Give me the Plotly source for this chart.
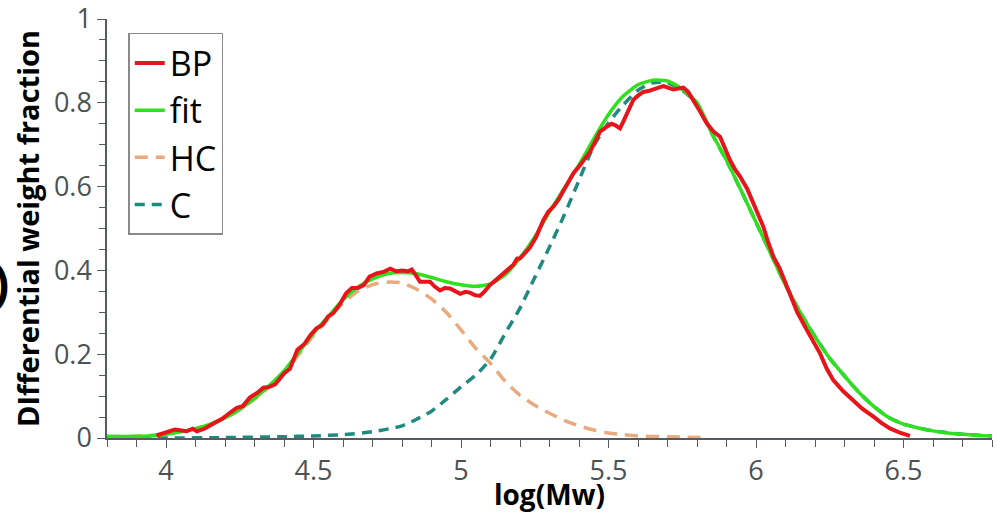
import plotly.graph_objects as go

# measured distribution (BP)
bp_x = [3.968, 3.99, 4.01, 4.03, 4.05, 4.07, 4.09, 4.105, 4.13, 4.16, 4.19, 4.22, 4.24, 4.26, 4.285,
        4.31, 4.33, 4.35, 4.37, 4.40, 4.42, 4.445, 4.47, 4.49, 4.51, 4.53, 4.55, 4.567, 4.59, 4.61,
        4.63, 4.65, 4.67, 4.69, 4.714, 4.74, 4.76, 4.78, 4.80, 4.82, 4.833, 4.85, 4.861, 4.895, 4.91,
        4.929, 4.945, 4.963, 4.98, 4.997, 5.015, 5.03, 5.047, 5.064, 5.08, 5.098, 5.115, 5.132, 5.155,
        5.177, 5.19, 5.20, 5.215, 5.234, 5.255, 5.279, 5.296, 5.313, 5.33, 5.347, 5.365, 5.381, 5.40,
        5.415, 5.437, 5.455, 5.471, 5.494, 5.51, 5.522, 5.539, 5.55, 5.562, 5.584, 5.60, 5.618, 5.635,
        5.652, 5.67, 5.686, 5.70, 5.72, 5.737, 5.754, 5.77, 5.787, 5.81, 5.833, 5.855, 5.878, 5.895,
        5.912, 5.93, 5.946, 5.97, 5.991, 6.01, 6.025, 6.04, 6.059, 6.08, 6.10, 6.115, 6.14, 6.172,
        6.195, 6.217, 6.24, 6.262, 6.295, 6.33, 6.36, 6.398, 6.425, 6.454, 6.49, 6.522]
bp_y = [0.006, 0.010, 0.016, 0.020, 0.017, 0.016, 0.022, 0.016, 0.022, 0.034, 0.046, 0.062, 0.072, 0.076, 0.097,
        0.108, 0.120, 0.122, 0.128, 0.154, 0.165, 0.210, 0.225, 0.246, 0.262, 0.270, 0.290, 0.298, 0.320, 0.345,
        0.358, 0.358, 0.365, 0.385, 0.393, 0.397, 0.404, 0.398, 0.400, 0.398, 0.402, 0.385, 0.373, 0.373, 0.362,
        0.352, 0.358, 0.357, 0.350, 0.344, 0.349, 0.347, 0.341, 0.339, 0.350, 0.365, 0.375, 0.385, 0.400,
        0.413, 0.428, 0.429, 0.440, 0.455, 0.480, 0.520, 0.540, 0.552, 0.568, 0.588, 0.612, 0.632, 0.648,
        0.663, 0.683, 0.708, 0.731, 0.743, 0.750, 0.747, 0.739, 0.755, 0.775, 0.807, 0.817, 0.826, 0.828,
        0.831, 0.836, 0.840, 0.836, 0.832, 0.834, 0.836, 0.826, 0.807, 0.780, 0.751, 0.732, 0.719, 0.690,
        0.663, 0.640, 0.624, 0.595, 0.560, 0.530, 0.504, 0.470, 0.433, 0.405, 0.372, 0.345, 0.300, 0.258,
        0.228, 0.202, 0.165, 0.138, 0.112, 0.091, 0.070, 0.051, 0.036, 0.023, 0.012, 0.005]

# total fit
fit_x = [3.80, 3.90, 3.97, 4.05, 4.10, 4.15, 4.20, 4.25, 4.30, 4.35, 4.40, 4.45, 4.50, 4.55, 4.60, 4.65,
         4.70, 4.75, 4.80, 4.85, 4.90, 4.95, 5.00, 5.05, 5.10, 5.15, 5.20, 5.25, 5.30, 5.35, 5.40, 5.45,
         5.50, 5.55, 5.60, 5.65, 5.70, 5.75, 5.80, 5.85, 5.90, 5.95, 6.00, 6.05, 6.10, 6.15, 6.20, 6.25,
         6.30, 6.35, 6.40, 6.45, 6.50, 6.55, 6.60, 6.65, 6.70, 6.75, 6.80]
fit_y = [0.004, 0.004, 0.006, 0.015, 0.022, 0.033, 0.048, 0.068, 0.095, 0.125, 0.160, 0.205, 0.250, 0.290, 0.330, 0.360,
         0.380, 0.392, 0.395, 0.392, 0.383, 0.373, 0.366, 0.362, 0.368, 0.390, 0.430, 0.480, 0.540, 0.596, 0.652, 0.714,
         0.772, 0.816, 0.843, 0.854, 0.852, 0.832, 0.800, 0.728, 0.663, 0.590, 0.515, 0.440, 0.365, 0.300, 0.242, 0.190,
         0.148, 0.108, 0.075, 0.049, 0.033, 0.024, 0.017, 0.012, 0.009, 0.006, 0.005]

# HC component
hc_x = [3.80, 3.90, 4.00, 4.10, 4.20, 4.30, 4.40, 4.50, 4.55, 4.60, 4.65, 4.70, 4.75, 4.80, 4.85, 4.90,
        4.95, 5.00, 5.05, 5.10, 5.15, 5.20, 5.25, 5.30, 5.35, 5.40, 5.45, 5.50, 5.55, 5.60, 5.70, 5.83]
hc_y = [0.002, 0.004, 0.010, 0.022, 0.047, 0.092, 0.155, 0.245, 0.285, 0.322, 0.350, 0.366, 0.372, 0.370, 0.355, 0.332,
        0.300, 0.258, 0.214, 0.178, 0.135, 0.102, 0.078, 0.059, 0.042, 0.029, 0.019, 0.012, 0.008, 0.005, 0.003, 0.001]

# C component
c_x = [3.80, 4.00, 4.20, 4.40, 4.50, 4.60, 4.70, 4.80, 4.85, 4.90, 4.95, 5.00, 5.05, 5.10, 5.15, 5.20,
       5.25, 5.30, 5.35, 5.40, 5.45, 5.50, 5.55, 5.60, 5.65, 5.70, 5.75, 5.80, 5.85, 5.90, 5.95, 6.00,
       6.05, 6.10, 6.15, 6.20, 6.25, 6.30, 6.35, 6.40, 6.45, 6.50, 6.60, 6.70, 6.80]
c_y = [0.000, 0.000, 0.001, 0.003, 0.005, 0.008, 0.015, 0.029, 0.045, 0.064, 0.092, 0.122, 0.150, 0.188, 0.250, 0.310,
       0.383, 0.456, 0.532, 0.615, 0.697, 0.752, 0.795, 0.830, 0.848, 0.848, 0.830, 0.798, 0.727, 0.662, 0.590, 0.515,
       0.440, 0.365, 0.300, 0.242, 0.190, 0.148, 0.108, 0.075, 0.049, 0.033, 0.017, 0.009, 0.005]

x_ticks = [4, 4.5, 5, 5.5, 6, 6.5]
y_ticks = [0, 0.2, 0.4, 0.6, 0.8, 1]
y_ticktext = ["0", "0.2", "0.4", "0.6", "0.8", "1"]

fig = go.Figure()

# drawn bottom-up: C, HC, fit, BP; legend order set by legendrank
fig.add_trace(go.Scatter(x=c_x, y=c_y, mode="lines", name="C", legendrank=4,
                         line=dict(color="#1f8a80", width=3.5, dash="10px,7px", shape="spline", smoothing=0.6)))
fig.add_trace(go.Scatter(x=hc_x, y=hc_y, mode="lines", name="HC", legendrank=3,
                         line=dict(color="#e8aa7e", width=3.5, dash="13px,8px", shape="spline", smoothing=0.6)))
fig.add_trace(go.Scatter(x=fit_x, y=fit_y, mode="lines", name="fit", legendrank=2,
                         line=dict(color="#2ee01e", width=3.5, shape="spline", smoothing=0.6)))
fig.add_trace(go.Scatter(x=bp_x, y=bp_y, mode="lines", name="BP", legendrank=1,
                         line=dict(color="#e8141b", width=4)))

axis_common = dict(
    showgrid=False, zeroline=False, showline=True, linecolor="#555b5e", linewidth=1.5,
    ticks="outside", ticklen=8, tickwidth=1.2, tickcolor="#555b5e", automargin=False,
    ticklabeloverflow="allow",
    tickfont=dict(family="Open Sans", size=27, color="#4a5254"),
)

fig.update_layout(
    width=997, height=513,
    margin=dict(l=107, r=5, t=19, b=75),
    plot_bgcolor="white", paper_bgcolor="white",
    font=dict(family="Open Sans"),
    xaxis=dict(
        range=[3.8, 6.8], tickvals=x_ticks,
        minor=dict(dtick=0.1, ticks="outside", ticklen=7, tickcolor="#555b5e", tickwidth=1.2),
        title=dict(text="<b>log(Mw)</b>", font=dict(family="Open Sans", size=28, color="black"), standoff=9),
        **axis_common,
    ),
    yaxis=dict(
        range=[0, 1], tickvals=y_ticks, ticktext=y_ticktext,
        minor=dict(dtick=0.05, ticks="outside", ticklen=6, tickcolor="#555b5e", tickwidth=1.2),
        title=dict(text="<b>DIfferential weight fraction</b>", font=dict(family="Open Sans", size=29, color="black"),
                   standoff=6),
        **axis_common,
    ),
    legend=dict(
        x=0.024, y=0.967, xanchor="left", yanchor="top",
        traceorder="normal",
        bgcolor="white", bordercolor="#8a8a8a", borderwidth=1.5,
        font=dict(family="Open Sans", size=34, color="black"),
        itemwidth=30,
    ),
    showlegend=True,
)

# cropped panel label at the left edge
fig.add_annotation(text="<b>)</b>", xref="paper", yref="paper", x=-0.1085, y=0.37,
                   xanchor="right", yanchor="middle", showarrow=False,
                   font=dict(family="Open Sans", size=48, color="black"))

# drop the default page margin so the 997x513 figure fills the window exactly
fig.write_html("out.html", config={"displayModeBar": False},
               post_script="document.body.style.margin='0';")
